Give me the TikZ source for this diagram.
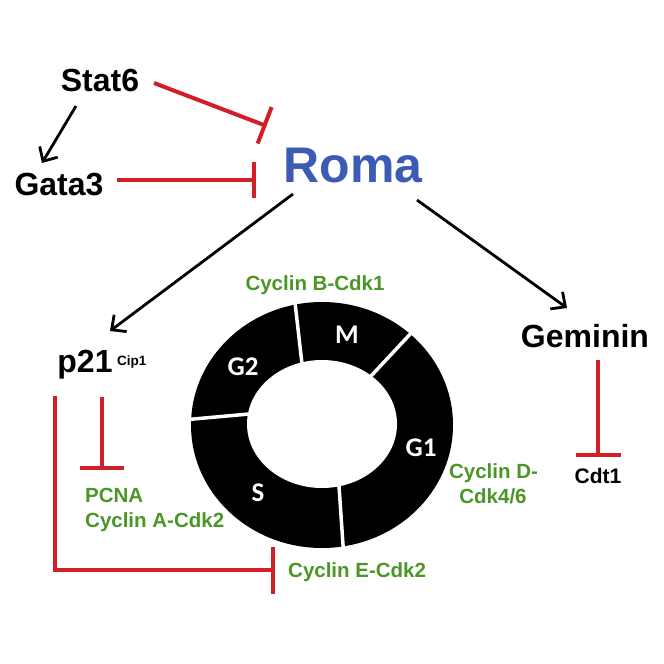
\documentclass[tikz,border=0pt]{standalone}
\usepackage{fontspec}
\setmainfont{Liberation Sans}
\newfontfamily\calfont{Carlito}
\usetikzlibrary{arrows.meta}
\definecolor{romablue}{RGB}{59,91,181}
\definecolor{cycgreen}{RGB}{76,150,40}
\definecolor{inhred}{RGB}{210,30,38}
\begin{document}
\begin{tikzpicture}[x=1pt,y=-1pt,
  gene/.style={font=\fontsize{32}{36}\selectfont\bfseries, inner sep=0pt, anchor=base},
  cyc/.style={font=\fontsize{20.5}{25}\selectfont\bfseries, text=cycgreen, inner sep=0pt},
  phase/.style={font=\calfont\fontsize{27}{29}\selectfont\bfseries, text=white, inner sep=0pt},
  act/.style={draw=black, line width=2.8pt, -{Straight Barb[length=11pt,width=21pt,line width=2.8pt]}},
  inh/.style={draw=inhred, line width=4pt, line join=miter},
  sep/.style={draw=white, line width=3.5pt}
]
\useasboundingbox (0,0) rectangle (664,664);
\fill[white] (0,0) rectangle (664,664);

% gene nodes
\node[gene] (stat6) at (100,91) {Stat6};
\node[gene] (gata3) at (59,195) {Gata3};
\node[gene, font=\fontsize{50}{54}\selectfont\bfseries, text=romablue] (roma) at (353,182) {Roma};
\node[gene] (p21) at (85,372) {p21};
\node[anchor=base west, inner sep=0pt, font=\fontsize{13.5}{15}\selectfont\bfseries] (cip) at (117,365) {Cip1};
\node[gene] (geminin) at (585,347) {Geminin};
\node[gene, font=\fontsize{21}{24}\selectfont\bfseries] (cdt1) at (598,483) {Cdt1};

% green labels
\node[cyc, anchor=base west] (pcna) at (85,502) {PCNA};
\node[cyc, anchor=base west] (cyca) at (85,527) {Cyclin A-Cdk2};
\node[cyc, anchor=base] (cycb) at (315,290) {Cyclin B-Cdk1};
\node[cyc, anchor=base] (cycd1) at (493.5,478) {Cyclin D-};
\node[cyc, anchor=base] (cycd2) at (493,503) {Cdk4/6};
\node[cyc, anchor=base west] (cyce) at (288,577) {Cyclin E-Cdk2};

% cell cycle ring
\fill[black] (322,425) ellipse [x radius=131, y radius=123];
\fill[white] (322,424) ellipse [x radius=75, y radius=64];
\draw[sep] (294.5,298) -- (302,364);
\draw[sep] (414,330) -- (371,376);
\draw[sep] (188,419.5) -- (249,414);
\draw[sep] (339,486) -- (343.5,552);
\node[phase] (mph) at (347,335) {M};
\node[phase] (g2ph) at (243,367) {G2};
\node[phase] (g1ph) at (421,448) {G1};
\node[phase] (sph) at (258,493) {S};

% coordinates for connector ends
\coordinate (s6a) at (76,106);
\coordinate (g3a) at (42,163);
\coordinate (ra) at (293,194);
\coordinate (pa) at (110,331);
\coordinate (rb) at (417,200);
\coordinate (ga) at (567,308);
\coordinate (s6i) at (154,83);
\coordinate (ri1) at (266.5,126);
\coordinate (g3i) at (117,180);
\coordinate (ri2) at (256,180);
\coordinate (p21i) at (102,397);
\coordinate (pcnai) at (102,470);
\coordinate (gemi) at (598,360);
\coordinate (cdti) at (598,457);
\coordinate (p21l) at (55,396);
\coordinate (corner) at (55,570);
\coordinate (cycei) at (275,570);

% activations
\draw[act] (s6a) -- (g3a);
\draw[act] (ra) -- (pa);
\draw[act] (rb) -- (ga);

% inhibitions
\draw[inh, -{Bar[width=39pt,line width=4pt]}] (s6i) -- (ri1);
\draw[inh, -{Bar[width=36pt,line width=4pt]}] (g3i) -- (ri2);
\draw[inh, -{Bar[width=44pt,line width=4pt]}] (p21i) -- (pcnai);
\draw[inh, -{Bar[width=45pt,line width=4pt]}] (gemi) -- (cdti);
\draw[inh, -{Bar[width=47pt,line width=4pt]}] (p21l) -- (corner) -- (cycei);
\end{tikzpicture}
\end{document}
